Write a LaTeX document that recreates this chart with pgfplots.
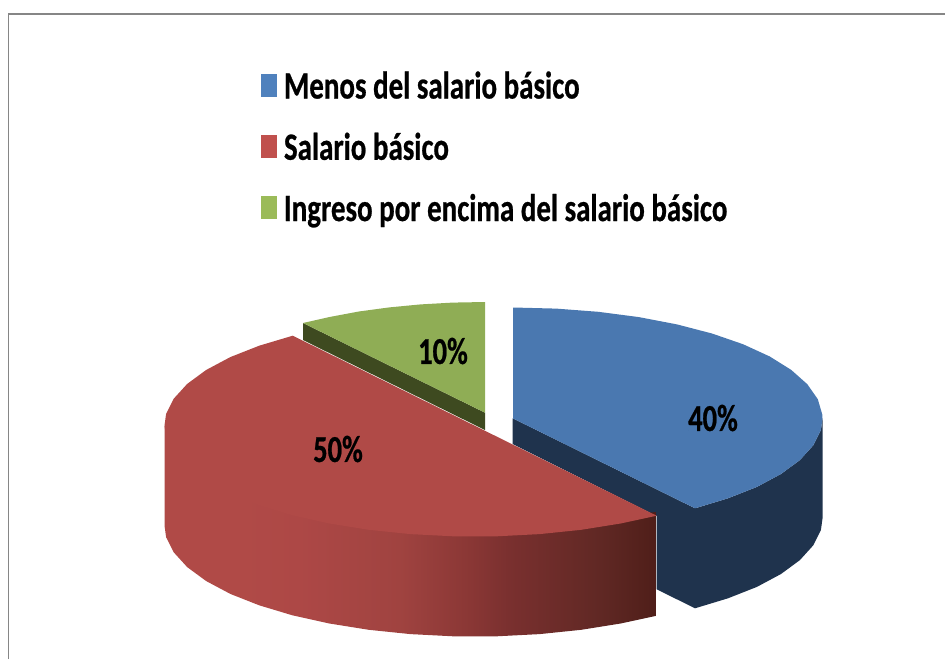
\documentclass[border=0pt]{standalone}
\usepackage{fontspec}
\setmainfont{Carlito}[FakeStretch=0.75, BoldFeatures={FakeBold=0.6}]
\usepackage{pgfplots}
\pgfplotsset{compat=1.18}
\definecolor{bluetop}{HTML}{4A78B0}
\definecolor{blueside}{HTML}{1F334D}
\definecolor{redtop}{HTML}{B04A47}
\definecolor{greentop}{HTML}{8FAD55}
\definecolor{greenside}{HTML}{3E4A20}
\definecolor{framec}{HTML}{868686}
\definecolor{legblue}{HTML}{4F81BD}
\definecolor{legred}{HTML}{C0504D}
\definecolor{leggreen}{HTML}{9BBB59}
\pgfdeclarehorizontalshading{redside}{100bp}{
  rgb(0bp)=(0.690,0.290,0.278);
  rgb(25bp)=(0.690,0.290,0.278);
  rgb(33bp)=(0.690,0.290,0.278);
  rgb(38.7bp)=(0.678,0.282,0.275);
  rgb(48.9bp)=(0.627,0.263,0.251);
  rgb(56bp)=(0.541,0.216,0.208);
  rgb(60bp)=(0.478,0.188,0.184);
  rgb(69.3bp)=(0.376,0.157,0.141);
  rgb(75bp)=(0.310,0.118,0.098);
  rgb(100bp)=(0.310,0.118,0.098)}
\begin{document}
\begin{tikzpicture}
\useasboundingbox (0,0) rectangle (945pt,659pt);
\begin{axis}[
  at={(0pt,0pt)}, anchor=south west,
  scale only axis, width=945pt, height=659pt,
  xmin=0, xmax=945, ymin=0, ymax=659, y dir=reverse,
  hide axis, clip=false,
  legend cell align=left,
  legend style={at={(axis cs:261,72.5)}, anchor=north west, draw=none, fill=none,
    inner sep=0pt, outer sep=0pt, row sep=27.25pt,
    font=\fontsize{38.6}{38.6}\selectfont\bfseries,
    nodes={inner sep=0pt, text height=26pt, text depth=8pt},
    /tikz/every odd column/.append style={column sep=7pt}},
  legend image code/.code={\fill[#1] (0pt,-7.4pt) rectangle (16pt,15.6pt);},
]
% frame
\addplot[draw=framec, line width=1.6pt, forget plot] coordinates {(8.5,659) (8.5,14) (945,14)};
% blue side
\addplot[fill=blueside, draw=none, forget plot] coordinates {
(512.7,418.3) (512.7,444) (656.7,516) (656.7,589.3) (695,608.3) (728,598.3) (756.9,586.9) (781,574)
(799.9,560.1) (813.2,545.4) (820.9,530.1) (822.5,518.5) (822.5,418.5) (820.9,430.1) (813.2,445.4)
(799.9,460.1) (781,474) (756.9,486.9) (728,498.3) (695,508.3)};
% blue top
\addplot[fill=bluetop, draw=none, legend image post style={fill=legblue}] coordinates {
(513,418.5) (513,307.5) (556.1,308.6) (598.3,311.8) (638.9,317.1) (677,324.4) (712,333.5) (743,344.2)
(769.6,356.4) (791.2,369.9) (807.3,384.2) (817.8,399.2) (822.3,414.6) (822.5,418.5) (820.9,430.1)
(813.2,445.4) (799.9,460.1) (781,474) (756.9,486.9) (728,498.3) (695,508.3)};
\addlegendentry{Menos del salario básico}
% red side
\addplot[shading=redside, draw=none, forget plot] coordinates {
(656.7,512) (496.7,525) (292.4,505) (206.1,470) (164.5,425.5) (164.5,525.5) (166.1,537.2) (173.8,552.4) (187.2,567.1)
(206.1,581) (230.3,593.9) (259.2,605.3) (292.4,615.3) (329.4,623.5) (368.8,629.8) (410.4,634.1)
(453.3,636.3) (496.7,636.3) (539.6,634.1) (581.2,629.8) (620.6,623.5) (656.7,615.7)};
% red top
\addplot[fill=redtop, draw=none, legend image post style={fill=legred}] coordinates {
(656.7,515.7) (620.6,523.5) (581.2,529.8) (539.6,534.1) (496.7,536.3) (453.3,536.3) (410.4,534.1)
(368.8,529.8) (329.4,523.5) (292.4,515.3) (259.2,505.3) (230.3,493.9) (206.1,481) (187.2,467.1)
(173.8,452.4) (166.1,437.2) (164.5,425.5) (166.1,413.8) (173.8,398.6) (187.2,383.9) (206.1,370)
(230.3,357.1) (259.2,345.7) (292.7,335.7)};
\addlegendentry{Salario básico}
% green side
\addplot[fill=greenside, draw=none, forget plot] coordinates {
(303,323) (485,412.7) (485,430) (303,340)};
% green top
\addplot[fill=greentop, draw=none, legend image post style={fill=leggreen}] coordinates {
(485,412.7) (303,323) (330,316.9) (358.8,311.5) (389.2,307.4) (420.5,304.4) (452.5,302.6) (485,302)};
\addlegendentry{Ingreso por encima del salario básico}
% data labels
\node[font=\fontsize{38}{38}\selectfont\bfseries] at (axis cs:713,418) {40\%};
\node[font=\fontsize{38}{38}\selectfont\bfseries] at (axis cs:338,449) {50\%};
\node[font=\fontsize{38}{38}\selectfont\bfseries] at (axis cs:443,351) {10\%};
\end{axis}
\end{tikzpicture}
\end{document}
